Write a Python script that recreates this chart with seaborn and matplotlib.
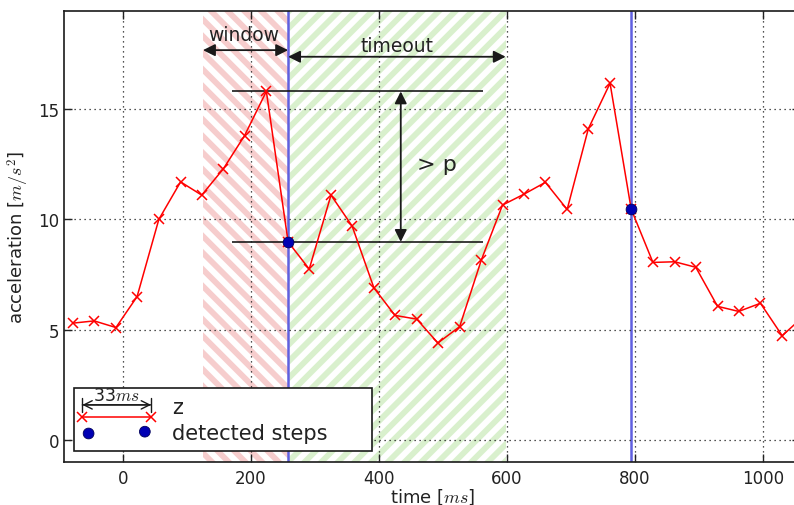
import numpy as np
import pandas as pd
import matplotlib
matplotlib.use("Agg")
import matplotlib.pyplot as plt
import seaborn as sns
from matplotlib.legend_handler import HandlerLine2D, HandlerPathCollection
from matplotlib.lines import Line2D
from matplotlib.collections import PathCollection

# ---------------- data ----------------
time_ms = [-78, -45, -11, 22, 56, 90, 123, 157, 190, 224, 258, 291, 325, 358,
           392, 425, 459, 492, 526, 560, 593, 627, 660, 694, 727, 761, 794,
           828, 862, 895, 929, 962, 996, 1030, 1063]
accel_z = [5.3, 5.4, 5.1, 6.5, 10.0, 11.7, 11.1, 12.3, 13.8, 15.8, 8.98, 7.75,
           11.1, 9.7, 6.9, 5.65, 5.48, 4.4, 5.14, 8.17, 10.65, 11.15, 11.68,
           10.45, 14.1, 16.17, 10.47, 8.05, 8.08, 7.83, 6.06, 5.83, 6.2, 4.73, 5.6]
step_time = [258, 794]
step_accel = [8.98, 10.47]
window_span = [125, 258]
timeout_span = [258, 598]
thresh_span = [171, 563]
thresh_levels = [15.8, 8.98]
xticks = [0, 200, 400, 600, 800, 1000]
yticks = [0, 5, 10, 15]

df = pd.DataFrame({"time": time_ms, "z": accel_z})
steps = pd.DataFrame({"time": step_time, "z": step_accel})

# ---------------- style ----------------
sns.set_theme(style="ticks")
plt.rcParams.update({
    "font.family": ["DejaVu Sans"],
    "mathtext.fontset": "cm",
    "hatch.linewidth": 4.2,
    "text.color": "#222222",
    "axes.labelcolor": "#222222",
    "xtick.color": "#222222",
    "ytick.color": "#222222",
})

fig = plt.figure(figsize=(7.94, 5.06), dpi=100)
ax = fig.add_axes([64.3 / 794, 43.3 / 506, (800 - 64.3) / 794, 450.4 / 506])

# hatched regions
ax.axvspan(window_span[0], window_span[1], facecolor="none", edgecolor="#f6cdcd",
           hatch="\\\\", lw=0, zorder=0.2)
ax.axvspan(timeout_span[0], timeout_span[1], facecolor="none", edgecolor="#d9f0cd",
           hatch="//", lw=0, zorder=0.2)

# step markers (vertical lines)
for t in step_time:
    ax.axvline(t, color="#6060e0", lw=1.8, zorder=2)

# threshold lines
ax.hlines(thresh_levels, thresh_span[0], thresh_span[1], color="k", lw=1.2, zorder=2)

# data
sns.lineplot(data=df, x="time", y="z", ax=ax, color="red", lw=1.1, marker="x",
             markersize=7, markeredgewidth=1.1, markeredgecolor="red",
             label="z", zorder=3)
sns.scatterplot(data=steps, x="time", y="z", ax=ax, color="#0000b4", s=60,
                edgecolor="#00005a", linewidth=0.6, label="detected steps", zorder=4)

# annotations
arrow_kw = dict(arrowstyle="<|-|>", color="k", lw=1.3, mutation_scale=18,
                shrinkA=0, shrinkB=0)
ax.annotate("", xy=(window_span[0], 17.67), xytext=(window_span[1], 17.67),
            arrowprops=arrow_kw, zorder=5)
ax.text(188, 18.4, "window", ha="center", va="center", fontsize=13.5)
ax.annotate("", xy=(timeout_span[0], 17.37), xytext=(timeout_span[1], 17.37),
            arrowprops=arrow_kw, zorder=5)
ax.text(428, 17.9, "timeout", ha="center", va="center", fontsize=13.5)
ax.annotate("", xy=(434, thresh_levels[0]), xytext=(434, thresh_levels[1]),
            arrowprops=arrow_kw, zorder=5)
ax.text(490, 12.5, "> p", ha="center", va="center", fontsize=16)

# axes
ax.set_xlim(-91.7, 1057.8)
ax.set_ylim(-0.98, 19.43)
ax.set_xticks(xticks)
ax.set_yticks(yticks)
ax.grid(True, color="k", linestyle=(0, (1, 3)), lw=0.9)
ax.set_axisbelow(False)
for gl in ax.get_xgridlines() + ax.get_ygridlines():
    gl.set_zorder(0.5)
ax.tick_params(direction="in", top=True, right=True, length=6, width=1,
               labelsize=12, pad=5)
ax.tick_params(axis="y", pad=3.5)
for sp in ax.spines.values():
    sp.set_visible(True)
    sp.set_color("k")
    sp.set_linewidth(1.2)
ax.set_xlabel("time [$ms$]", fontsize=13, labelpad=0)
ax.set_ylabel("acceleration [$m/s^2$]", fontsize=13, labelpad=5.5)


class ShiftedLine(HandlerLine2D):
    def create_artists(self, legend, orig_handle, xdescent, ydescent, width,
                       height, fontsize, trans):
        arts = super().create_artists(legend, orig_handle, xdescent, ydescent,
                                      width, height, fontsize, trans)
        for a in arts:
            a.set_ydata(np.asarray(a.get_ydata()) - 0.55 * fontsize)
        return arts


handles, labels = ax.get_legend_handles_labels()
leg = ax.legend(handles, labels, loc="lower left", mode="expand",
                bbox_to_anchor=(0.0132, 0.0231, 0.405, 0.15),
                fontsize=15, handlelength=3.3, handletextpad=1.0,
                labelspacing=0.3, borderaxespad=0,
                numpoints=2, scatterpoints=2, fancybox=False, frameon=True,
                edgecolor="k", framealpha=1,
                handler_map={Line2D: ShiftedLine(marker_pad=0),
                             PathCollection: HandlerPathCollection(marker_pad=0.3)})
leg.get_frame().set_linewidth(1.2)
leg.set_zorder(10)

fig.canvas.draw()
line = leg.legend_handles[0]
pts = line.get_transform().transform(
    np.column_stack([line.get_xdata(), line.get_ydata()]))
x0, x1 = pts[0, 0], pts[-1, 0]
ya = pts[0, 1] + 12
fig.add_artist(plt.Text((x0 + x1) / 2, ya + 1, "33$ms$", ha="center", va="bottom",
                        fontsize=12.5, transform=None, zorder=11))
for style in ["|-|, widthA=0.4, widthB=0.4", "<->, head_length=0.5, head_width=0.25"]:
    ax.annotate("", xy=(x0, ya), xytext=(x1, ya), xycoords="figure pixels",
                textcoords="figure pixels",
                arrowprops=dict(arrowstyle=style, color="k", lw=1.0,
                                mutation_scale=12, shrinkA=0, shrinkB=0),
                annotation_clip=False, zorder=11)

fig.savefig("out.png", dpi=100)
